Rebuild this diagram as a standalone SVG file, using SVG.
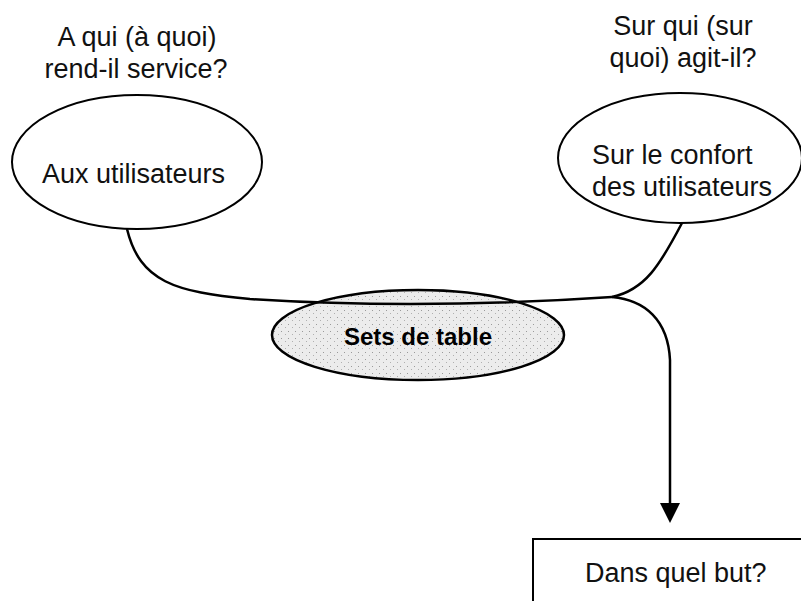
<svg xmlns="http://www.w3.org/2000/svg" width="801" height="601" viewBox="0 0 801 601">
<style>
.t{font-family:"Liberation Sans",Arial,sans-serif;font-size:27px;fill:#111}
.b{font-family:"Liberation Sans",Arial,sans-serif;font-size:24px;font-weight:bold;fill:#000}
.n{fill:#fff;stroke:#000;stroke-width:2}
.c{fill:none;stroke:#000;stroke-width:2.5}
</style>
<defs>
<pattern id="sp" width="7" height="7" patternUnits="userSpaceOnUse">
<rect width="7" height="7" fill="#ececec"/>
<rect x="1" y="2" width="1" height="1" fill="#9a9a9a"/>
<rect x="5" y="5" width="1" height="1" fill="#b0b0b0"/>
</pattern>
</defs>
<rect width="801" height="601" fill="#fff"/>
<g id="label-left">
<text class="t" x="137" y="46" text-anchor="middle">A qui (à quoi)</text>
<text class="t" x="136" y="78" text-anchor="middle">rend-il service?</text>
</g>
<g id="label-right">
<text class="t" x="683" y="35" text-anchor="middle">Sur qui (sur</text>
<text class="t" x="683" y="67" text-anchor="middle">quoi) agit-il?</text>
</g>
<g id="node-utilisateurs">
<ellipse class="n" cx="137" cy="162" rx="125" ry="67"/>
<text class="t" x="42" y="183">Aux utilisateurs</text>
</g>
<g id="node-confort">
<ellipse class="n" cx="680" cy="158" rx="122" ry="65"/>
<text class="t" x="592" y="164">Sur le confort</text>
<text class="t" x="592" y="196">des utilisateurs</text>
</g>
<g id="node-sets">
<ellipse cx="418" cy="335" rx="146" ry="45" fill="url(#sp)" stroke="#000" stroke-width="2.5"/>
<text class="b" x="418" y="345" text-anchor="middle">Sets de table</text>
</g>
<g id="node-but">
<rect class="n" x="533" y="539" width="300" height="100"/>
<text class="t" x="585" y="582">Dans quel but?</text>
</g>
<g id="connectors">
<path class="c" d="M127,229 C140,282 175,292 250,299 Q420,310 612,297"/>
<path class="c" d="M612,297 C645,290 660,265 682,223"/>
<path class="c" d="M612,297 C645,300 668,320 670,360 L670,505"/>
<polygon points="660,503 680,503 670,523" fill="#000"/>
</g>
</svg>
